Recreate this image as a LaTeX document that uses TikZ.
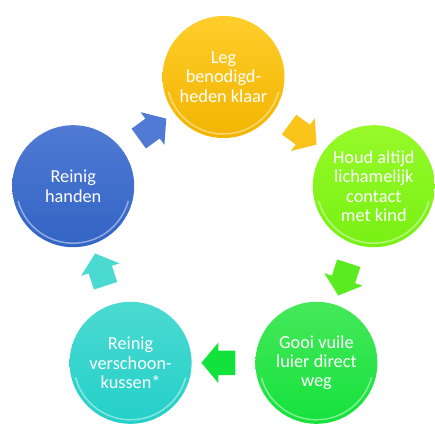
\documentclass[tikz,border=0pt]{standalone}
\usepackage{fontspec}
\setmainfont{Carlito}
\usetikzlibrary{shapes.arrows}

\definecolor{legtop}{RGB}{255,206,44}
\definecolor{legbot}{RGB}{242,180,0}
\definecolor{houdtop}{RGB}{150,250,40}
\definecolor{houdbot}{RGB}{120,240,20}
\definecolor{gooitop}{RGB}{70,232,90}
\definecolor{gooibot}{RGB}{20,226,60}
\definecolor{kussentop}{RGB}{75,218,210}
\definecolor{kussenbot}{RGB}{35,208,200}
\definecolor{handtop}{RGB}{80,122,212}
\definecolor{handbot}{RGB}{50,100,196}

\tikzset{
  stap/.style={circle, minimum size=122pt, inner sep=0pt, align=center,
    text=white, font=\fontsize{18.3pt}{19.3pt}\selectfont,
    path picture={\draw[white, opacity=0.45, line width=1.5pt]
      (path picture bounding box.center) ++(195:57pt) arc (195:345:57pt);}},
  pijl/.style={single arrow, sloped, allow upside down, inner xsep=0pt, inner ysep=12pt,
    minimum height=34pt, minimum width=40pt, single arrow head extend=8pt,
    single arrow tip angle=100},
}

\begin{document}
\begin{tikzpicture}[x=1pt,y=1pt]
	\useasboundingbox (0,0) rectangle (435,425);

	\node(leg)[stap, top color=legtop, bottom color=legbot] at (223.5,348) {Leg\\benodigd-\\heden klaar};
	\node(houd)[stap, top color=houdtop, bottom color=houdbot] at (373.8,238.8) {Houd altijd\\lichamelijk\\contact\\met kind};
	\node(gooi)[stap, top color=gooitop, bottom color=gooibot] at (316.4,62.2) {Gooi vuile\\luier direct\\weg};
	\node(kussen)[stap, top color=kussentop, bottom color=kussenbot] at (130.6,62.2) {Reinig\\verschoon-\\kussen*};
	\node(hand)[stap, top color=handtop, bottom color=handbot] at (73.2,238.8) {Reinig\\handen};

	\path (leg) -- node[pijl, fill=legtop!60!legbot]{} (houd);
	\path (houd) -- node[pijl, fill=houdbot!70!gooibot]{} (gooi);
	\path (gooi) -- node[pijl, fill=gooibot]{} (kussen);
	\path (kussen) -- node[pijl, fill=kussentop]{} (hand);
	\path (hand) -- node[pijl, fill=handtop]{} (leg);
\end{tikzpicture}
\end{document}
